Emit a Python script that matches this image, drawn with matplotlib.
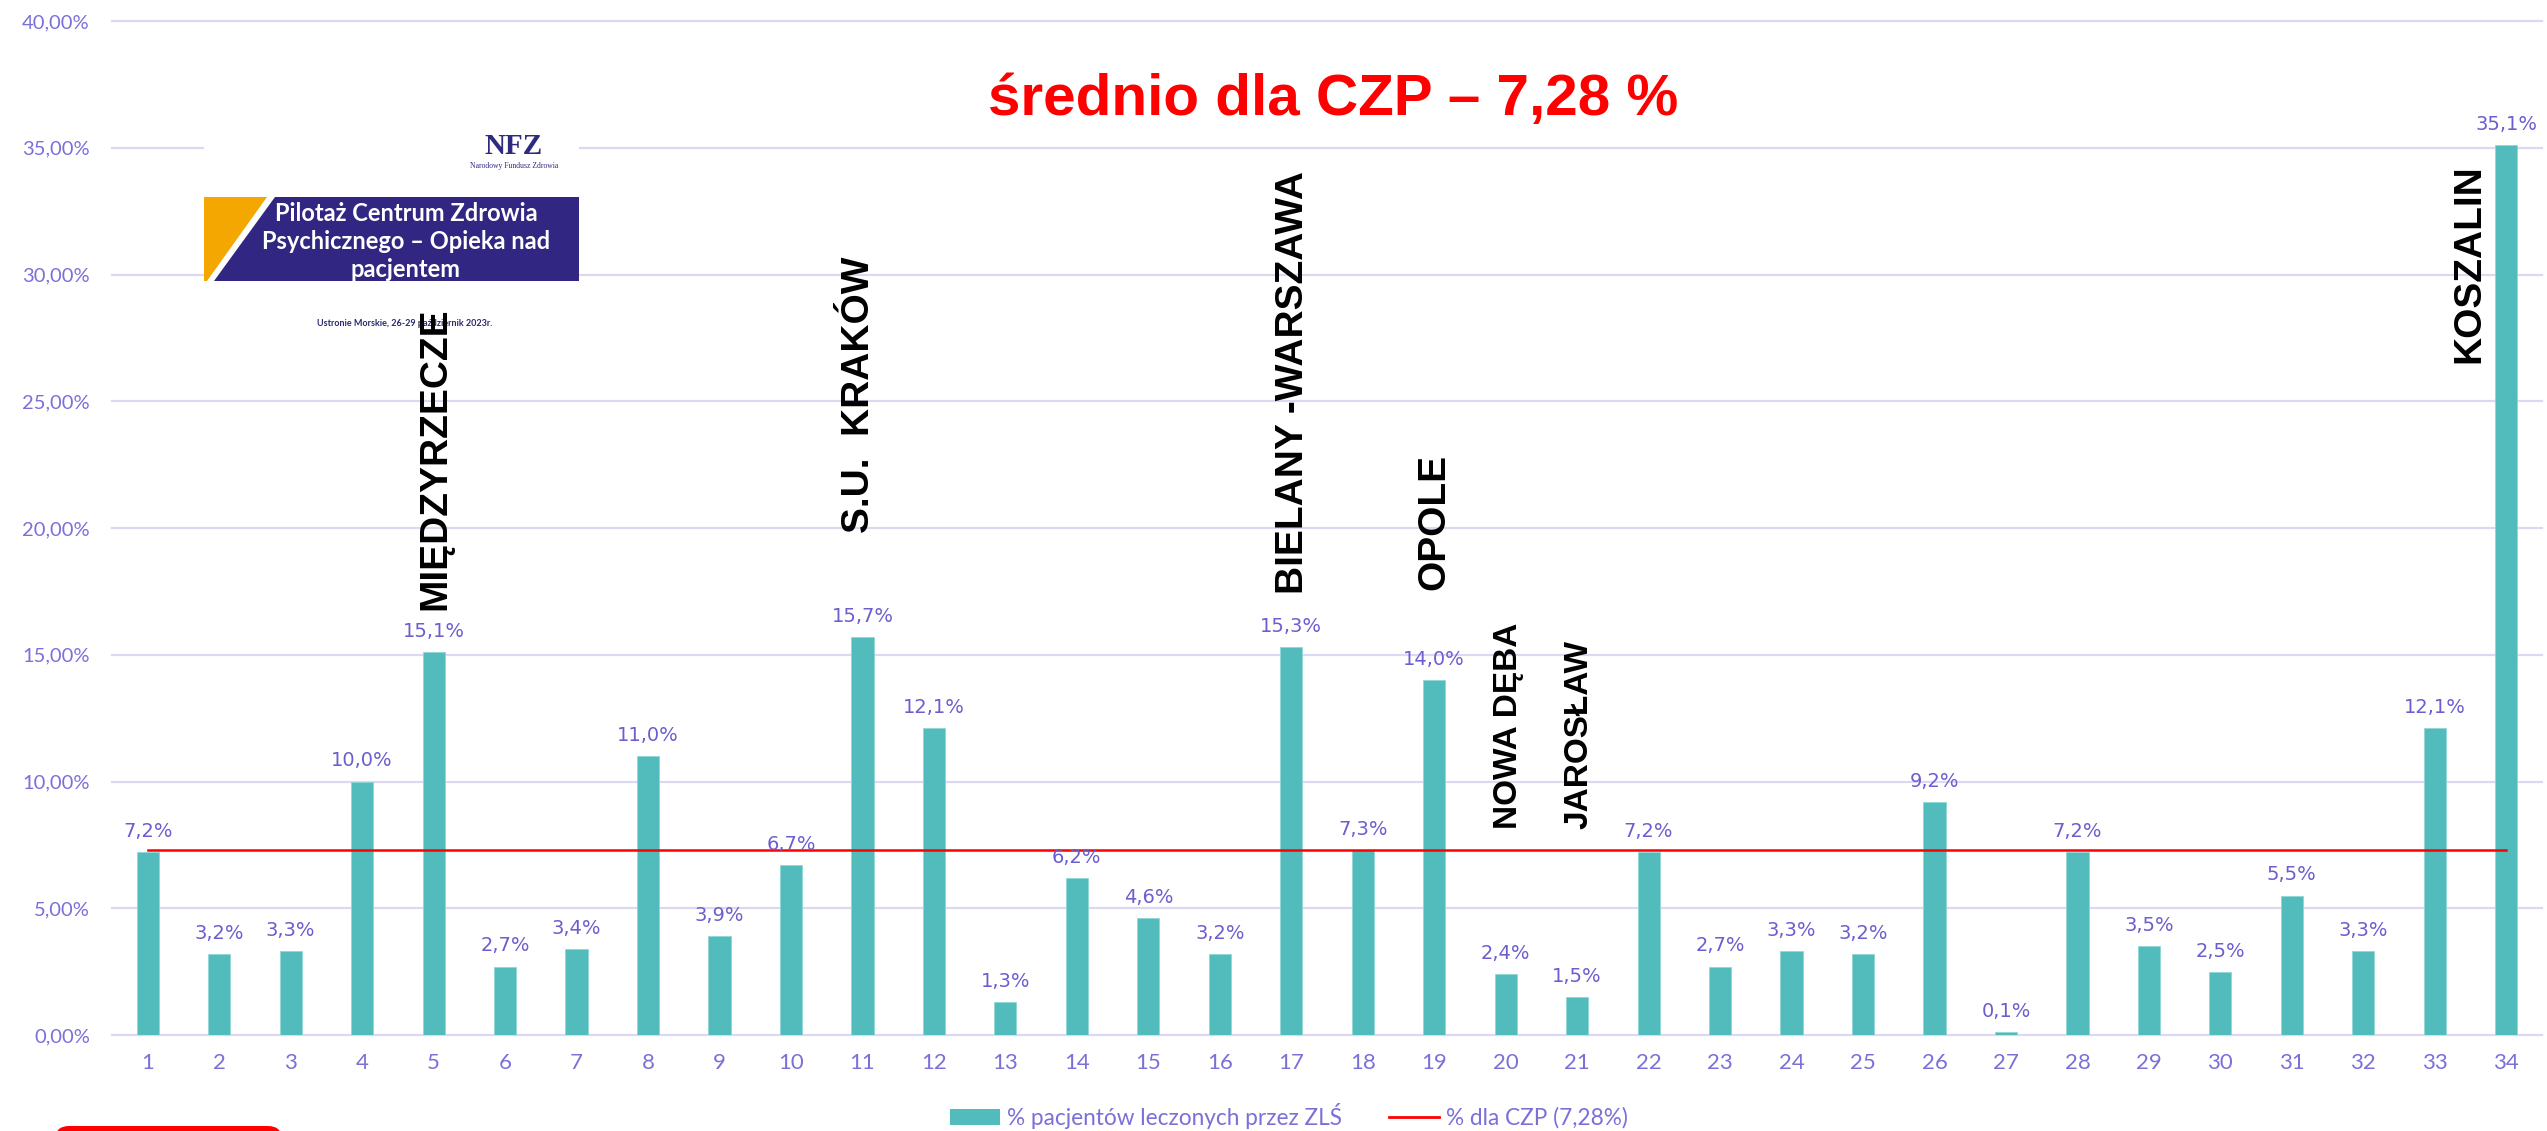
import numpy as np
import matplotlib.pyplot as plt
import matplotlib.transforms as mtransforms
from matplotlib.patches import Rectangle, Polygon, FancyBboxPatch, Patch
from matplotlib.lines import Line2D

# data
centres = list(range(1, 35))
share = [7.2, 3.2, 3.3, 10.0, 15.1, 2.7, 3.4, 11.0, 3.9, 6.7,
         15.7, 12.1, 1.3, 6.2, 4.6, 3.2, 15.3, 7.3, 14.0, 2.4,
         1.5, 7.2, 2.7, 3.3, 3.2, 9.2, 0.1, 7.2, 3.5, 2.5,
         5.5, 3.3, 12.1, 35.1]
czp_avg = 7.28
yticks = [0, 5, 10, 15, 20, 25, 30, 35, 40]

site_names = ["MIĘDZYRZECZE", "S.U.  KRAKÓW", "BIELANY -WARSZAWA", "OPOLE",
              "NOWA DĘBA", "JAROSŁAW", "KOSZALIN"]
site_bar = [5, 11, 17, 19, 20, 21, 34]

title = "średnio dla CZP – 7,28 %"
legend_labels = ["% pacjentów leczonych przez ZLŚ", "% dla CZP (7,28%)"]
banner_lines = ["Pilotaż Centrum Zdrowia", "Psychicznego – Opieka nad", "pacjentem"]
banner_place = "Ustronie Morskie, 26-29 październik 2023r."

# layout of the site names (offset from bar, bottom in %, size)
site_dx = [0.168, 0.098, 0.168, 0.14, 0.16, 0.14, -0.37]
site_y = [16.77, 19.8, 17.4, 17.55, 8.13, 8.13, 26.5]
site_size = [28, 28, 28, 28, 24, 24, 28]

W, H = 2547, 1131
teal = '#52BCBC'
purple_txt = '#6B5ECF'
tick_col = '#7A70D8'

fig = plt.figure(figsize=(W / 100, H / 100), dpi=100)
ax = fig.add_axes([112 / W, 1 - 1035 / H, (2542 - 112) / W, (1035 - 21) / H])
# pixel coords measured from top-left of the picture
pxT = mtransforms.Affine2D().scale(1 / W, -1 / H).translate(0, 1) + fig.transFigure

ax.bar(centres, share, width=0.31, color=teal, edgecolor='#8fd6d6', linewidth=0.6, zorder=2)
ax.plot([centres[0], centres[-1]], [czp_avg, czp_avg], color='#FF0000', lw=1.8, zorder=3)

for c, v in zip(centres, share):
    ax.annotate(f"{v:.1f}".replace('.', ',') + '%', (c, v), xytext=(0, 8),
                textcoords='offset points', ha='center', va='bottom',
                fontsize=14, color=purple_txt, family='DejaVu Sans', zorder=4)

ax.set_xlim(0.5, 34.5)
ax.set_ylim(0, 40)
ax.set_yticks(yticks)
ax.set_yticklabels([f"{t:.2f}".replace('.', ',') + '%' for t in yticks])
ax.set_xticks(centres)
ax.set_xticklabels([str(c) for c in centres])
ax.tick_params(axis='y', length=0, pad=16, labelsize=14.5, labelcolor=tick_col)
ax.tick_params(axis='x', length=0, pad=13, labelsize=16, labelcolor=tick_col)
for lab in ax.get_xticklabels() + ax.get_yticklabels():
    lab.set_family('Lato')
for s in ax.spines.values():
    s.set_visible(False)
ax.set_axisbelow(True)
ax.yaxis.grid(True, color='#DCD8F2', lw=1.6)
for gl in ax.get_ygridlines():
    gl.set_clip_on(False)

for name, b, dx, y, fs in zip(site_names, site_bar, site_dx, site_y, site_size):
    ax.text(b + dx, y, name, rotation=90, rotation_mode='anchor', ha='left',
            va='baseline', fontsize=fs, fontweight='bold', family='Liberation Sans',
            color='black', zorder=7)

# slide logo block
ax.add_patch(Rectangle((204, 110), 375, 230, transform=pxT, facecolor='white',
                       edgecolor='none', zorder=1.5))
ax.add_patch(Polygon([(204, 197), (267, 197), (207, 281), (204, 281)], closed=True,
                     transform=pxT, facecolor='#F4A700', edgecolor='none', zorder=3))
ax.add_patch(Polygon([(275, 197), (579, 197), (579, 281), (214, 281)], closed=True,
                     transform=pxT, facecolor='#312682', edgecolor='none', zorder=3))
for i, line in enumerate(banner_lines):
    ax.text(406, 221 + 28 * i, line, transform=pxT, ha='center', va='baseline',
            color='white', family='Lato', fontweight='bold', fontsize=17, zorder=4)
ax.text(514, 146, "NFZ", transform=pxT, ha='center', va='center', color='#2E2A80',
        family='Liberation Serif', fontweight='bold', fontsize=21, zorder=4)
ax.text(514, 166, "Narodowy Fundusz Zdrowia", transform=pxT, ha='center', va='center',
        color='#2E2A80', family='Liberation Serif', fontsize=5.5, zorder=4)
ax.text(405, 326, banner_place, transform=pxT, ha='center', va='baseline',
        color='#2B2A6B', family='Lato', fontweight='bold', fontsize=6.5, zorder=4)

fig.text(1333.5 / W, 1 - 115 / H, title, ha='center', va='baseline', fontsize=42,
         fontweight='bold', color='#FF0000', family='Liberation Sans')

handles = [Patch(facecolor=teal, edgecolor='none'), Line2D([], [], color='#FF0000', lw=2)]
fig.legend(handles, legend_labels, loc='center', bbox_to_anchor=(1289 / W, 1 - 1116 / H),
           ncol=2, frameon=False, prop={'family': 'Lato', 'size': 16.3},
           handlelength=2.2, handletextpad=0.3, columnspacing=2.1, labelcolor=tick_col)

fig.add_artist(FancyBboxPatch((55, 1126), 227, 40, boxstyle='round,pad=0,rounding_size=14',
                              transform=pxT, facecolor='#FF0000', edgecolor='none'))

fig.savefig('out.png', dpi=100)
